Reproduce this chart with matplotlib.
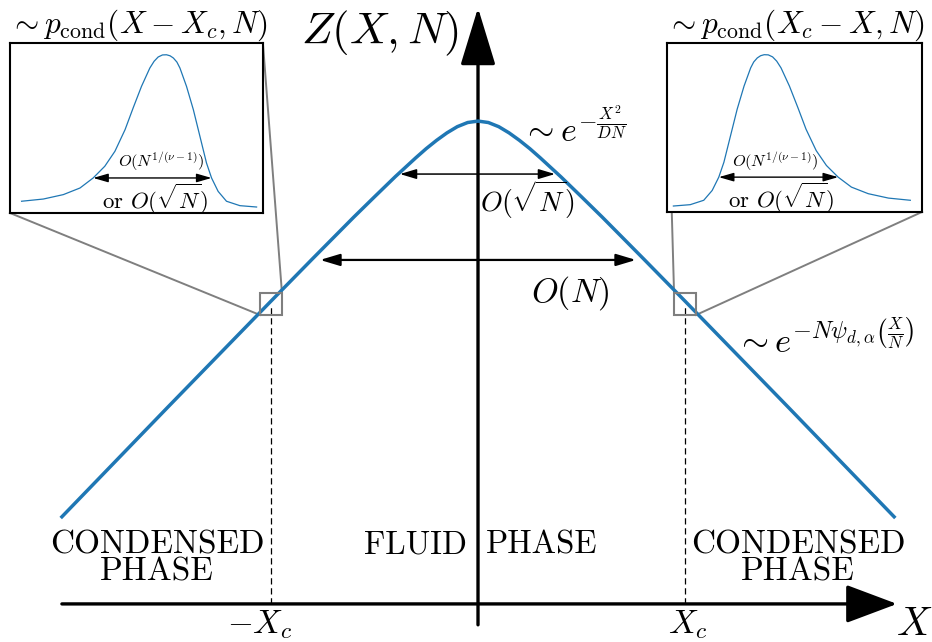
import numpy as np
import matplotlib
matplotlib.use('Agg')
import matplotlib.pyplot as plt
from matplotlib.patches import Rectangle

plt.rcParams['mathtext.fontset'] = 'cm'
plt.rcParams['font.family'] = 'cmr10'

# main curve Z(X,N), X in units of X_c
X = [-2.01, -1.5, -1.0, -0.8, -0.6, -0.5, -0.4, -0.3, -0.25, -0.2, -0.15, -0.1, -0.05, 0.0,
     0.05, 0.1, 0.15, 0.2, 0.25, 0.3, 0.4, 0.5, 0.6, 0.8, 1.0, 1.5, 2.01]
Z = [0.421, 0.949, 1.463, 1.667, 1.869, 1.967, 2.064, 2.156, 2.200, 2.240, 2.276, 2.306, 2.326, 2.333,
     2.326, 2.306, 2.276, 2.240, 2.200, 2.156, 2.064, 1.967, 1.869, 1.667, 1.463, 0.949, 0.421]
Xc = 1.0
Z_at_Xc = 1.449

# zoomed condensate peak (inset coords, 0..1)
u_peak = [0.046, 0.132, 0.211, 0.277, 0.329, 0.375, 0.415, 0.455, 0.487, 0.520, 0.553, 0.570,
          0.586, 0.603, 0.619, 0.633, 0.646, 0.660, 0.672, 0.698, 0.725, 0.751, 0.777, 0.797,
          0.823, 0.856, 0.909, 0.975]
v_peak = [0.069, 0.082, 0.108, 0.147, 0.206, 0.275, 0.363, 0.490, 0.618, 0.745, 0.853, 0.893,
          0.918, 0.930, 0.931, 0.925, 0.912, 0.888, 0.853, 0.745, 0.608, 0.451, 0.294, 0.206,
          0.127, 0.069, 0.043, 0.035]

# arrow extents
sqrtN_arrow = [-0.377, 0.372, 2.077]
N_arrow = [-0.763, 0.763, 1.662]
inset_arrow = [0.329, 0.797, 0.206]

blue = '#1f77b4'

fig = plt.figure(figsize=(9.32, 6.42), dpi=100)
ax = fig.add_axes([0, 0, 1, 1])
ax.set_xlim(-2.309, 2.193)
ax.set_ylim(-0.184, 2.918)
ax.axis('off')

# axes arrows
ax.annotate('', xy=(2.024, 0), xytext=(-2.01, 0),
            arrowprops=dict(arrowstyle='-|>,head_length=1.6,head_width=0.6', lw=2.4, color='k',
                            mutation_scale=20, shrinkA=0, shrinkB=0))
ax.annotate('', xy=(0, 2.88), xytext=(0, -0.101),
            arrowprops=dict(arrowstyle='-|>,head_length=1.8,head_width=0.55', lw=2.4, color='k',
                            mutation_scale=20, shrinkA=0, shrinkB=0))

ax.plot(X, Z, color=blue, lw=2.5, zorder=3)

# X_c lines
for xc in [-Xc, Xc]:
    ax.plot([xc, xc], [0, Z_at_Xc], 'k--', lw=0.9, dashes=(5, 3))
    ax.add_patch(Rectangle((xc - 0.053, Z_at_Xc - 0.053), 0.106, 0.106, fill=False,
                           ec='#7f7f7f', lw=1.5, zorder=4))

# width arrows
ax.annotate('', xy=(sqrtN_arrow[0], sqrtN_arrow[2]), xytext=(sqrtN_arrow[1], sqrtN_arrow[2]),
            arrowprops=dict(arrowstyle='<|-|>,head_length=0.5,head_width=0.15', lw=1.1, color='k',
                            mutation_scale=20, shrinkA=0, shrinkB=0))
ax.annotate('', xy=(N_arrow[0], N_arrow[2]), xytext=(N_arrow[1], N_arrow[2]),
            arrowprops=dict(arrowstyle='<|-|>,head_length=0.6,head_width=0.18', lw=1.6, color='k',
                            mutation_scale=20, shrinkA=0, shrinkB=0))

ax.text(0.237, 1.952, r'$O(\sqrt{N})$', fontsize=20, ha='center', va='center')
ax.text(0.444, 1.502, r'$O(N)$', fontsize=24.5, ha='center', va='center')
ax.text(0.213, 2.30, r'$\sim e^{-\frac{X^2}{DN}}$', fontsize=24.5, ha='left', va='center')
ax.text(1.242, 1.275, r'$\sim e^{-N\psi_{d,\alpha}\left(\frac{X}{N}\right)}$', fontsize=25,
        ha='left', va='center')

ax.text(-0.473, 2.758, r'$Z(X,N)$', fontsize=32.5, ha='center', va='center')
ax.text(2.105, -0.10, r'$X$', fontsize=29, ha='center', va='center')
ax.text(-1.053, -0.10, r'$-X_c$', fontsize=24, ha='center', va='center')
ax.text(1.014, -0.10, r'$X_c$', fontsize=24, ha='center', va='center')

ax.text(-0.304, 0.285, 'FLUID', fontsize=23.5, ha='center', va='center')
ax.text(0.309, 0.285, 'PHASE', fontsize=23.5, ha='center', va='center')
for xm in [-1.551, 1.546]:
    ax.text(xm, 0.285, 'CONDENSED', fontsize=24, ha='center', va='center')
    ax.text(xm, 0.155, 'PHASE', fontsize=24, ha='center', va='center')

# insets
boxes = {'left': [-2.261, 1.889, 1.222, 0.821], 'right': [0.913, 1.894, 1.232, 0.816]}
for side, b in boxes.items():
    ins = ax.inset_axes(b, transform=ax.transData)
    ins.set_xlim(0, 1)
    ins.set_ylim(0, 1)
    ins.set_xticks([])
    ins.set_yticks([])
    for s in ins.spines.values():
        s.set_linewidth(1.5)
    if side == 'left':
        u = u_peak
        a0, a1 = inset_arrow[0], inset_arrow[1]
        t_small, t_or = 0.598, 0.575
    else:
        u = [1 - x for x in u_peak]
        a0, a1 = 1 - inset_arrow[1], 1 - inset_arrow[0]
        t_small, t_or = 0.425, 0.445
    ins.plot(u, v_peak, color=blue, lw=0.9)
    ins.annotate('', xy=(a0, inset_arrow[2]), xytext=(a1, inset_arrow[2]),
                 arrowprops=dict(arrowstyle='<|-|>,head_length=0.45,head_width=0.13', lw=1.0,
                                 color='k', mutation_scale=20, shrinkA=0, shrinkB=0))
    ins.text(t_small, 0.30, r'$O(N^{1/(\nu-1)})$', fontsize=11.8, ha='center', va='center')
    ins.text(t_or, 0.08, r'or $O(\sqrt{N})$', fontsize=16.5, ha='center', va='center')

ax.text(-1.638, 2.797, r'$\sim p_{\mathrm{cond}}(X-X_c,N)$', fontsize=22.5, ha='center', va='center')
ax.text(1.531, 2.797, r'$\sim p_{\mathrm{cond}}(X_c-X,N)$', fontsize=22.5, ha='center', va='center')

# zoom connector lines
gray = '#7f7f7f'
ax.plot([-2.261, -1.053], [1.889, 1.396], color=gray, lw=1.4)
ax.plot([-1.039, -0.947], [2.710, 1.502], color=gray, lw=1.4)
ax.plot([0.913, 0.947], [2.710, 1.502], color=gray, lw=1.4)
ax.plot([2.145, 1.053], [1.894, 1.396], color=gray, lw=1.4)

fig.savefig('out.png', dpi=100)
